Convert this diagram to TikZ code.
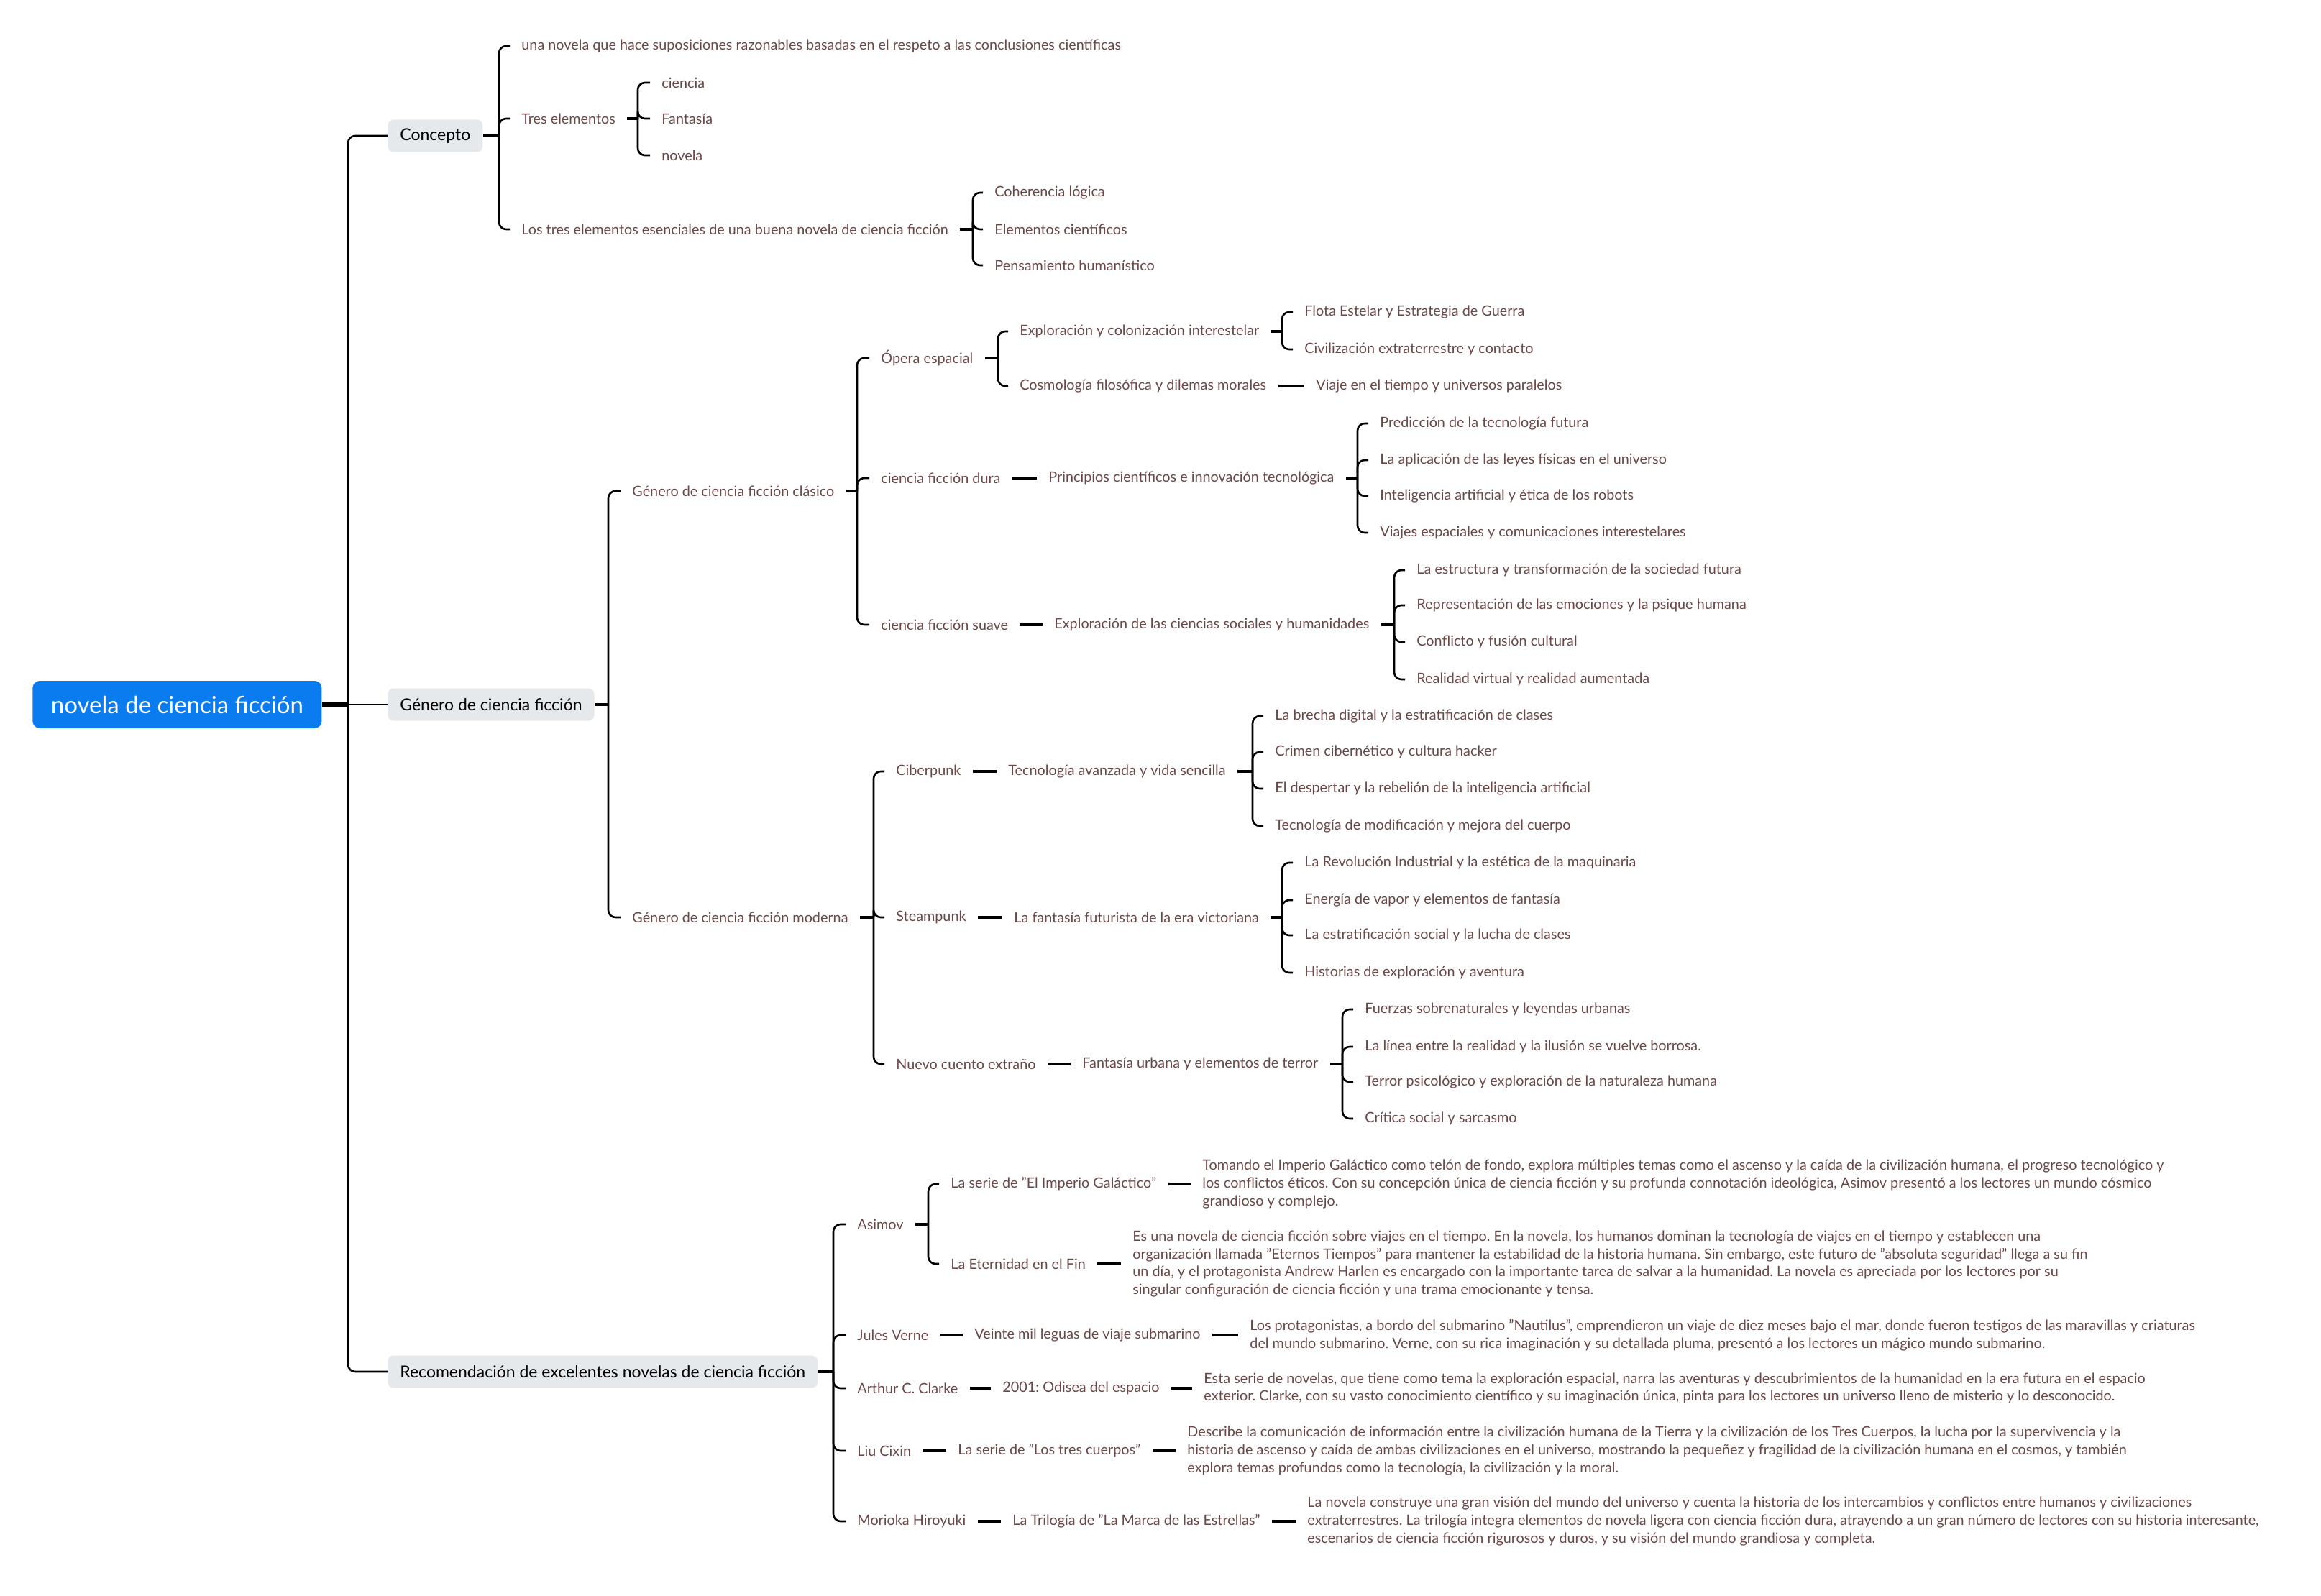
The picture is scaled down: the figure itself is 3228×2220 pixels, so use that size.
\documentclass[tikz,border=0pt]{standalone}
\usepackage{fontspec}
\setmainfont{Lato}
\frenchspacing
\definecolor{leafc}{HTML}{6B4848}
\definecolor{greyc}{HTML}{E6E9EC}
\definecolor{bluec}{HTML}{0A7CEF}
\begin{document}
\begin{tikzpicture}[x=0.5pt,y=-0.5pt,
  leaf/.style={anchor=west, text=leafc, font=\fontsize{9.9}{12.4}\selectfont, inner xsep=8pt, inner ysep=2pt, align=left},
  lone/.style={anchor=west, fill=greyc, text=black, rounded corners=4pt, font=\fontsize{11.5}{13.5}\selectfont, inner xsep=8.5pt, minimum height=22.5pt},
  rootn/.style={anchor=west, fill=bluec, text=white, rounded corners=5pt, font=\fontsize{16.5}{19}\selectfont, minimum width=201pt, minimum height=33pt},
  trunk/.style={line width=1.3pt, rounded corners=5pt},
  stub/.style={line width=2.4pt}]
\useasboundingbox (0,0) rectangle (3228,2220);
\fill[white] (0,0) rectangle (3228,2220);

% ---------- nodes ----------
\node[rootn] (root) at (45,980) {novela de ciencia ficción};
\node[lone] (concepto) at (539,189) {Concepto};
\node[lone] (genero) at (539,980) {Género de ciencia ficción};
\node[lone] (recom) at (539,1908) {Recomendación de excelentes novelas de ciencia ficción};

% Concepto
\node[leaf] (c1) at (709,64) {una novela que hace suposiciones razonables basadas en el respeto a las conclusiones científicas};
\node[leaf] (c2) at (709,165) {Tres elementos};
\node[leaf] (c3) at (709,319) {Los tres elementos esenciales de una buena novela de ciencia ficción};
\node[leaf] (t1) at (904,115) {ciencia};
\node[leaf] (t2) at (904,165) {Fantasía};
\node[leaf] (t3) at (904,216) {novela};
\node[leaf] (e1) at (1367,268) {Coherencia lógica};
\node[leaf] (e2) at (1367,319) {Elementos científicos};
\node[leaf] (e3) at (1367,369) {Pensamiento humanístico};

% Genero
\node[leaf] (clasico) at (863,683) {Género de ciencia ficción clásico};
\node[leaf] (moderna) at (863,1276) {Género de ciencia ficción moderna};
\node[leaf] (opera) at (1209,498) {Ópera espacial};
\node[leaf] (dura) at (1209,665) {ciencia ficción dura};
\node[leaf] (suave) at (1209,869) {ciencia ficción suave};
\node[leaf] (explor) at (1402,461) {Exploración y colonización interestelar};
\node[leaf] (cosmo) at (1402,537) {Cosmología filosófica y dilemas morales};
\node[leaf] (flota) at (1798,434) {Flota Estelar y Estrategia de Guerra};
\node[leaf] (civil) at (1798,486) {Civilización extraterrestre y contacto};
\node[leaf] (viaje) at (1814,537) {Viaje en el tiempo y universos paralelos};
\node[leaf] (princ) at (1442,665) {Principios científicos e innovación tecnológica};
\node[leaf] (p1) at (1903,589) {Predicción de la tecnología futura};
\node[leaf] (p2) at (1903,640) {La aplicación de las leyes físicas en el universo};
\node[leaf] (p3) at (1903,690) {Inteligencia artificial y ética de los robots};
\node[leaf] (p4) at (1903,741) {Viajes espaciales y comunicaciones interestelares};
\node[leaf] (socs) at (1450,869) {Exploración de las ciencias sociales y humanidades};
\node[leaf] (s1) at (1954,793) {La estructura y transformación de la sociedad futura};
\node[leaf] (s2) at (1954,842) {Representación de las emociones y la psique humana};
\node[leaf] (s3) at (1954,893) {Conflicto y fusión cultural};
\node[leaf] (s4) at (1954,945) {Realidad virtual y realidad aumentada};

\node[leaf] (ciber) at (1230,1073) {Ciberpunk};
\node[leaf] (steam) at (1230,1276) {Steampunk};
\node[leaf] (nuevo) at (1230,1480) {Nuevo cuento extraño};
\node[leaf] (tecav) at (1386,1073) {Tecnología avanzada y vida sencilla};
\node[leaf] (k1) at (1757,996) {La brecha digital y la estratificación de clases};
\node[leaf] (k2) at (1757,1046) {Crimen cibernético y cultura hacker};
\node[leaf] (k3) at (1757,1097) {El despertar y la rebelión de la inteligencia artificial};
\node[leaf] (k4) at (1757,1149) {Tecnología de modificación y mejora del cuerpo};
\node[leaf] (fvic) at (1394,1276) {La fantasía futurista de la era victoriana};
\node[leaf] (v1) at (1798,1200) {La Revolución Industrial y la estética de la maquinaria};
\node[leaf] (v2) at (1798,1252) {Energía de vapor y elementos de fantasía};
\node[leaf] (v3) at (1798,1301) {La estratificación social y la lucha de clases};
\node[leaf] (v4) at (1798,1353) {Historias de exploración y aventura};
\node[leaf] (urb) at (1489,1480) {Fantasía urbana y elementos de terror};
\node[leaf] (u1) at (1882,1404) {Fuerzas sobrenaturales y leyendas urbanas};
\node[leaf] (u2) at (1882,1456) {La línea entre la realidad y la ilusión se vuelve borrosa.};
\node[leaf] (u3) at (1882,1505) {Terror psicológico y exploración de la naturaleza humana};
\node[leaf] (u4) at (1882,1556) {Crítica social y sarcasmo};

% Recomendacion
\node[leaf] (asimov) at (1176,1703) {Asimov};
\node[leaf] (verne) at (1176,1857) {Jules Verne};
\node[leaf] (clarke) at (1176,1931) {Arthur C. Clarke};
\node[leaf] (liu) at (1176,2018) {Liu Cixin};
\node[leaf] (morioka) at (1176,2116) {Morioka Hiroyuki};
\node[leaf] (imperio) at (1306,1647) {La serie de "El Imperio Galáctico"};
\node[leaf] (eterni) at (1306,1758) {La Eternidad en el Fin};
\node[leaf] (dimp) at (1656,1647) {Tomando el Imperio Galáctico como telón de fondo, explora múltiples temas como el ascenso y la caída de la civilización humana, el progreso tecnológico y\\los conflictos éticos. Con su concepción única de ciencia ficción y su profunda connotación ideológica, Asimov presentó a los lectores un mundo cósmico\\grandioso y complejo.};
\node[leaf] (dete) at (1559,1758) {Es una novela de ciencia ficción sobre viajes en el tiempo. En la novela, los humanos dominan la tecnología de viajes en el tiempo y establecen una\\organización llamada "Eternos Tiempos" para mantener la estabilidad de la historia humana. Sin embargo, este futuro de "absoluta seguridad" llega a su fin\\un día, y el protagonista Andrew Harlen es encargado con la importante tarea de salvar a la humanidad. La novela es apreciada por los lectores por su\\singular configuración de ciencia ficción y una trama emocionante y tensa.};
\node[leaf] (veinte) at (1339,1857) {Veinte mil leguas de viaje submarino};
\node[leaf] (dver) at (1722,1857) {Los protagonistas, a bordo del submarino "Nautilus", emprendieron un viaje de diez meses bajo el mar, donde fueron testigos de las maravillas y criaturas\\del mundo submarino. Verne, con su rica imaginación y su detallada pluma, presentó a los lectores un mágico mundo submarino.};
\node[leaf] (odisea) at (1378,1931) {2001: Odisea del espacio};
\node[leaf] (dcla) at (1658,1931) {Esta serie de novelas, que tiene como tema la exploración espacial, narra las aventuras y descubrimientos de la humanidad en la era futura en el espacio\\exterior. Clarke, con su vasto conocimiento científico y su imaginación única, pinta para los lectores un universo lleno de misterio y lo desconocido.};
\node[leaf] (trescu) at (1316,2018) {La serie de "Los tres cuerpos"};
\node[leaf] (dliu) at (1635,2018) {Describe la comunicación de información entre la civilización humana de la Tierra y la civilización de los Tres Cuerpos, la lucha por la supervivencia y la\\historia de ascenso y caída de ambas civilizaciones en el universo, mostrando la pequeñez y fragilidad de la civilización humana en el cosmos, y también\\explora temas profundos como la tecnología, la civilización y la moral.};
\node[leaf] (marca) at (1392,2116) {La Trilogía de "La Marca de las Estrellas"};
\node[leaf] (dmor) at (1802,2116) {La novela construye una gran visión del mundo del universo y cuenta la historia de los intercambios y conflictos entre humanos y civilizaciones\\extraterrestres. La trilogía integra elementos de novela ligera con ciencia ficción dura, atrayendo a un gran número de lectores con su historia interesante,\\escenarios de ciencia ficción rigurosos y duros, y su visión del mundo grandiosa y completa.};

% ---------- connectors ----------
\coordinate (bR) at (484,980);
\draw[line width=3pt] (root.east) -- (bR);
\draw[trunk] (bR) -- (genero.west);
\draw[trunk] (bR) |- (concepto.west);
\draw[trunk] (bR) |- (recom.west);

\coordinate (bC) at (694,189);
\draw[stub] (concepto.east) -- (bC);
\foreach \n in {c1,c2,c3} \draw[trunk] (bC) |- (\n.west);
\coordinate (bT) at (887,165);
\draw[stub] (c2.east) -- (bT);
\foreach \n in {t1,t2,t3} \draw[trunk] (bT) |- (\n.west);
\coordinate (bE) at (1353,319);
\draw[stub] (c3.east) -- (bE);
\foreach \n in {e1,e2,e3} \draw[trunk] (bE) |- (\n.west);

\coordinate (bG) at (846,980);
\draw[stub] (genero.east) -- (bG);
\foreach \n in {clasico,moderna} \draw[trunk] (bG) |- (\n.west);
\coordinate (bCl) at (1192,683);
\draw[stub] (clasico.east) -- (bCl);
\foreach \n in {opera,dura,suave} \draw[trunk] (bCl) |- (\n.west);
\coordinate (bO) at (1388,498);
\draw[stub] (opera.east) -- (bO);
\foreach \n in {explor,cosmo} \draw[trunk] (bO) |- (\n.west);
\coordinate (bX) at (1783,461);
\draw[stub] (explor.east) -- (bX);
\foreach \n in {flota,civil} \draw[trunk] (bX) |- (\n.west);
\draw[stub] (cosmo.east) -- (viaje.west);
\draw[stub] (dura.east) -- (princ.west);
\coordinate (bP) at (1888,665);
\draw[stub] (princ.east) -- (bP);
\foreach \n in {p1,p2,p3,p4} \draw[trunk] (bP) |- (\n.west);
\draw[stub] (suave.east) -- (socs.west);
\coordinate (bS) at (1939,869);
\draw[stub] (socs.east) -- (bS);
\foreach \n in {s1,s2,s3,s4} \draw[trunk] (bS) |- (\n.west);

\coordinate (bM) at (1215,1276);
\draw[stub] (moderna.east) -- (bM);
\foreach \n in {ciber,steam,nuevo} \draw[trunk] (bM) |- (\n.west);
\draw[stub] (ciber.east) -- (tecav.west);
\coordinate (bK) at (1742,1073);
\draw[stub] (tecav.east) -- (bK);
\foreach \n in {k1,k2,k3,k4} \draw[trunk] (bK) |- (\n.west);
\draw[stub] (steam.east) -- (fvic.west);
\coordinate (bV) at (1783,1276);
\draw[stub] (fvic.east) -- (bV);
\foreach \n in {v1,v2,v3,v4} \draw[trunk] (bV) |- (\n.west);
\draw[stub] (nuevo.east) -- (urb.west);
\coordinate (bU) at (1867,1480);
\draw[stub] (urb.east) -- (bU);
\foreach \n in {u1,u2,u3,u4} \draw[trunk] (bU) |- (\n.west);

\coordinate (bRe) at (1159,1908);
\draw[stub] (recom.east) -- (bRe);
\foreach \n in {asimov,verne,clarke,liu,morioka} \draw[trunk] (bRe) |- (\n.west);
\coordinate (bA) at (1291,1703);
\draw[stub] (asimov.east) -- (bA);
\foreach \n in {imperio,eterni} \draw[trunk] (bA) |- (\n.west);
\draw[stub] (imperio.east) -- (dimp.west);
\draw[stub] (eterni.east) -- (dete.west);
\draw[stub] (verne.east) -- (veinte.west);
\draw[stub] (veinte.east) -- (dver.west);
\draw[stub] (clarke.east) -- (odisea.west);
\draw[stub] (odisea.east) -- (dcla.west);
\draw[stub] (liu.east) -- (trescu.west);
\draw[stub] (trescu.east) -- (dliu.west);
\draw[stub] (morioka.east) -- (marca.west);
\draw[stub] (marca.east) -- (dmor.west);
\end{tikzpicture}
\end{document}
